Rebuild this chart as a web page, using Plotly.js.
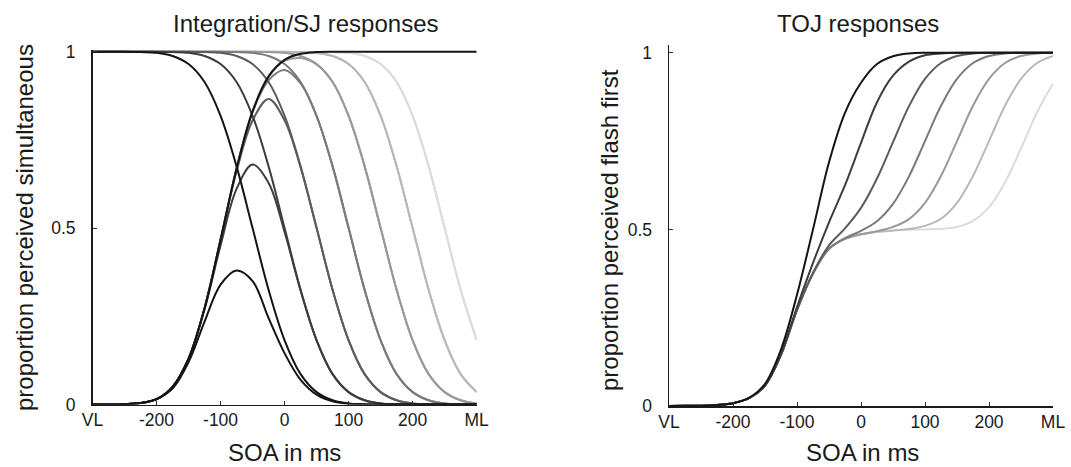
<!DOCTYPE html>
<html><head><meta charset="utf-8">
<script src="https://cdn.plot.ly/plotly-3.0.1.min.js"></script>
<style>html,body{margin:0;padding:0;background:#fff}#chart{width:1071px;height:467px}</style>
</head><body><div id="chart"></div>
<script>
// SOA sample points (ms); VL = -300, ML = 300
const soa = [-300,-275,-250,-225,-200,-175,-150,-125,-100,-75,-50,-25,0,25,50,75,100,125,150,175,200,225,250,275,300];
const tickVals = [-300,-200,-100,0,100,200,300];
const tickText = ['VL','-200','-100','0','100','200','ML'];
const yTickVals = [0,0.5,1];
const yTickText = ['0','0.5','1'];

// Integration / SJ panel
const sjRise  = [0,0,0.001,0.004,0.015,0.05,0.13,0.273,0.467,0.669,0.831,0.93,0.977,0.994,0.999,1,1,1,1,1,1,1,1,1,1];
const sjFall1 = [1,1,1,0.999,0.997,0.988,0.965,0.914,0.818,0.675,0.5,0.325,0.182,0.086,0.035,0.012,0.003,0.001,0,0,0,0,0,0,0];
const sjFall2 = [1,1,1,1,1,0.999,0.997,0.988,0.965,0.914,0.818,0.675,0.5,0.325,0.182,0.086,0.035,0.012,0.003,0.001,0,0,0,0,0];
const sjFall3 = [1,1,1,1,1,1,1,0.999,0.997,0.988,0.965,0.914,0.818,0.675,0.5,0.325,0.182,0.086,0.035,0.012,0.003,0.001,0,0,0];
const sjFall4 = [1,1,1,1,1,1,1,1,1,0.999,0.997,0.988,0.965,0.914,0.818,0.675,0.5,0.325,0.182,0.086,0.035,0.012,0.003,0.001,0];
const sjFall5 = [1,1,1,1,1,1,1,1,1,1,1,0.999,0.997,0.988,0.965,0.914,0.818,0.675,0.5,0.325,0.182,0.086,0.035,0.012,0.003];
const sjFall6 = [1,1,1,1,1,1,1,1,1,1,1,1,1,0.999,0.997,0.988,0.965,0.914,0.818,0.675,0.5,0.325,0.182,0.086,0.035];
const sjFall7 = [1,1,1,1,1,1,1,1,1,1,1,1,1,1,1,0.999,0.997,0.988,0.965,0.914,0.818,0.675,0.5,0.325,0.182];
const sjBump1 = [0,0,0.001,0.004,0.015,0.045,0.12,0.235,0.34,0.38,0.35,0.245,0.145,0.07,0.028,0.009,0.002,0,0,0,0,0,0,0,0];
const sjBump2 = [0,0,0.001,0.004,0.015,0.05,0.13,0.27,0.451,0.611,0.68,0.628,0.489,0.323,0.182,0.086,0.035,0.012,0.003,0.001,0,0,0,0,0];
const sjBump3 = [0,0,0.001,0.004,0.015,0.05,0.13,0.273,0.466,0.661,0.805,0.866,0.805,0.672,0.5,0.325,0.182,0.086,0.035,0.012,0.003,0.001,0,0,0];
const sjBump4 = [0,0,0.001,0.004,0.015,0.05,0.13,0.273,0.467,0.668,0.829,0.919,0.948,0.91,0.817,0.675,0.5,0.325,0.182,0.086,0.035,0.012,0.003,0.001,0];
const sjBump5 = [0,0,0.001,0.004,0.015,0.05,0.13,0.273,0.467,0.669,0.831,0.929,0.974,0.982,0.964,0.914,0.818,0.675,0.5,0.325,0.182,0.086,0.035,0.012,0.003];
const sjBump6 = [0,0,0.001,0.004,0.015,0.05,0.13,0.273,0.467,0.669,0.831,0.93,0.977,0.993,0.996,0.988,0.965,0.914,0.818,0.675,0.5,0.325,0.182,0.086,0.035];
const sjBump7 = [0,0,0.001,0.004,0.015,0.05,0.13,0.273,0.467,0.669,0.831,0.93,0.977,0.994,0.999,0.999,0.997,0.988,0.965,0.914,0.818,0.675,0.5,0.325,0.182];

// TOJ panel
const toj1 = [0,0.0005,0.001,0.003,0.008,0.023,0.063,0.16,0.315,0.5,0.69,0.83,0.915,0.968,0.99,0.998,1,1,1,1,1,1,1,1,1];
const toj2 = [0,0.0005,0.001,0.003,0.008,0.022,0.058,0.147,0.28,0.405,0.52,0.625,0.745,0.86,0.935,0.975,0.993,0.998,1,1,1,1,1,1,1];
const toj3 = [0,0.0005,0.001,0.003,0.008,0.022,0.058,0.145,0.272,0.377,0.455,0.503,0.561,0.644,0.747,0.849,0.926,0.971,0.991,0.998,1,1,1,1,1];
const toj4 = [0,0.0005,0.001,0.003,0.008,0.022,0.058,0.145,0.272,0.375,0.445,0.475,0.496,0.523,0.572,0.65,0.75,0.85,0.926,0.971,0.991,0.998,1,1,1];
const toj5 = [0,0.0005,0.001,0.003,0.008,0.022,0.058,0.145,0.272,0.375,0.445,0.473,0.486,0.495,0.507,0.529,0.575,0.651,0.75,0.85,0.926,0.971,0.991,0.998,1];
const toj6 = [0,0.0005,0.001,0.003,0.008,0.022,0.058,0.145,0.272,0.375,0.445,0.473,0.486,0.493,0.497,0.501,0.51,0.53,0.575,0.651,0.75,0.85,0.926,0.971,0.991];
const toj7 = [0,0.0005,0.001,0.003,0.008,0.022,0.058,0.145,0.272,0.375,0.445,0.473,0.486,0.493,0.497,0.499,0.5,0.502,0.507,0.524,0.563,0.633,0.729,0.831,0.913];

const greys = ['#141414','#3d3d3d','#5c5c5c','#7a7a7a','#999999','#b9b9b9','#dcdcdc'];

const sjFalls = [sjFall1,sjFall2,sjFall3,sjFall4,sjFall5,sjFall6,sjFall7];
const sjBumps = [sjBump1,sjBump2,sjBump3,sjBump4,sjBump5,sjBump6,sjBump7];
const tojs = [toj1,toj2,toj3,toj4,toj5,toj6,toj7];

function line(y, color, xa, ya){
  return {x: soa, y: y, type:'scatter', mode:'lines', xaxis:xa, yaxis:ya,
    line:{color:color, width:2, shape:'spline', smoothing:1}, hoverinfo:'skip'};
}
const traces = [];
for (let k = 6; k >= 0; k--) {
  traces.push(line(sjFalls[k], greys[k], 'x', 'y'));
  traces.push(line(sjBumps[k], greys[k], 'x', 'y'));
}
traces.push(line(sjRise, greys[0], 'x', 'y'));
for (let k = 6; k >= 0; k--) traces.push(line(tojs[k], greys[k], 'x2', 'y2'));

const W = 1071, H = 467;
const FONT = '"Liberation Sans", Arial, Helvetica, sans-serif';
function xax(dom, anchor){
  return {domain: dom, range:[-300,300], anchor: anchor, tickmode:'array', tickvals: tickVals, ticktext: tickText,
    ticks:'inside', ticklen:4, tickwidth:1, tickcolor:'#333', showline:true, linecolor:'#1a1a1a', linewidth:1.5,
    showgrid:false, zeroline:false, ticklabelstandoff:-1, tickfont:{size:17.5, family:FONT, color:'#1a1a1a'}, fixedrange:true};
}
function yax(dom, rng, anchor){
  return {domain: dom, range: rng, anchor: anchor, tickmode:'array', tickvals: yTickVals, ticktext: yTickText,
    ticks:'inside', ticklen:4, tickwidth:1, tickcolor:'#333', showline:true, linecolor:'#1a1a1a', linewidth:1.5,
    showgrid:false, zeroline:false, ticklabelstandoff:12, tickfont:{size:17.5, family:FONT, color:'#1a1a1a'}, fixedrange:true};
}
function ann(text, xpx, ypx, angle){
  return {text: text, x: xpx/W, y: 1 - ypx/H, xref:'paper', yref:'paper', showarrow:false,
    xanchor:'center', yanchor:'middle', textangle: angle || 0, font:{size:24, family:FONT, color:'#1a1a1a'}};
}
const layout = {
  width: W, height: H, margin:{l:0,r:0,t:0,b:0}, paper_bgcolor:'#fff', plot_bgcolor:'#fff', showlegend:false,
  font:{family:FONT, color:'#1a1a1a'},
  xaxis: xax([92.5/W, 476.7/W], 'y'),
  yaxis: yax([1-404.5/H, 1-49.6/H], [0, 1.006], 'x'),
  xaxis2: xax([669/W, 1053/W], 'y2'),
  yaxis2: yax([1-406/H, 1-45/H], [0, 1.022], 'x2'),
  annotations: [
    ann('Integration/SJ responses', 306, 23),
    ann('TOJ responses', 858, 23),
    ann('SOA in ms', 284, 452),
    ann('SOA in ms', 862, 452),
    ann('proportion perceived simultaneous', 24, 228, -90),
    ann('proportion perceived flash first', 610, 230, -90)
  ]
};
Plotly.newPlot('chart', traces, layout, {displayModeBar:false, staticPlot:true});
</script></body></html>
